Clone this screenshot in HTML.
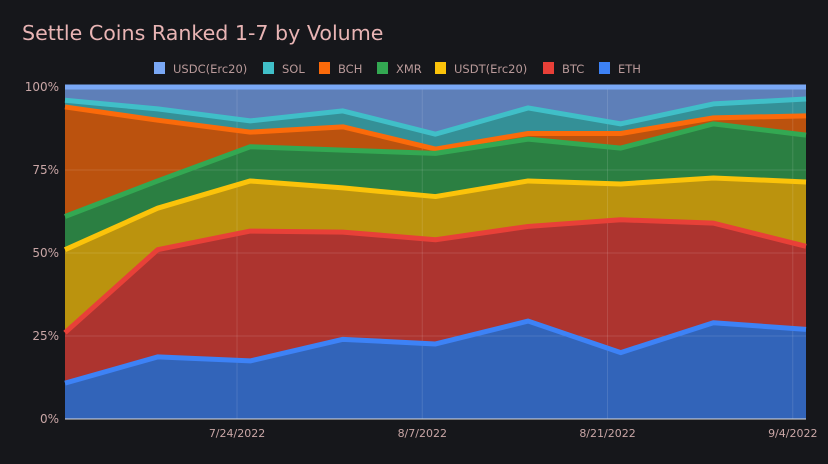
<!DOCTYPE html>
<html><head><meta charset="utf-8"><style>
body{margin:0;background:#16171b;width:828px;height:460px;overflow:hidden;font-family:"DejaVu Sans",sans-serif}
</style></head><body>
<svg id="c" width="828" height="460" font-family="DejaVu Sans, sans-serif">
<rect width="828" height="460" fill="#16171b"/>
<text x="22" y="40" fill="#e8b4b4" font-size="20.6">Settle Coins Ranked 1-7 by Volume</text>
</svg>
<script>
const dates=["2022-07-11","2022-07-18","2022-07-25","2022-08-01","2022-08-08","2022-08-15","2022-08-22","2022-08-29","2022-09-05"];
const seriesNames=["ETH","BTC","USDT(Erc20)","XMR","BCH","SOL","USDC(Erc20)"];
const colors=["#3d82f6","#e84038","#fbc30a","#33a852","#fb6a0a","#40bfc8","#7aa8f5"];
const cumETH=[10.8,18.7,17.5,24,22.6,29.5,20,29,27];
const cumBTC=[26,51,56.6,56.3,54,58,60,59,52];
const cumUSDT=[51,63.5,71.7,69.6,67,71.7,70.8,72.6,71.4];
const cumXMR=[61,71.7,82,81,80,84.3,81.6,88.9,85.5];
const cumBCH=[94,90,86.4,88,81.3,86,86,90.7,91.3];
const cumSOL=[96,93.4,89.8,92.8,85.8,93.7,88.9,94.9,96.4];
const cumUSDC=[100,100,100,100,100,100,100,100,100];
const yTicks=[0,25,50,75,100];
const xTicks=["2022-07-24","2022-08-07","2022-08-21","2022-09-04"];
const xTickLabels=["7/24/2022","8/7/2022","8/21/2022","9/4/2022"];
const legendOrder=["USDC(Erc20)","SOL","BCH","XMR","USDT(Erc20)","BTC","ETH"];

const svg=document.getElementById('c'),NS="http://www.w3.org/2000/svg";
const L=65,R=806,T=87,B=419;
const t0=new Date(dates[0]).getTime(),t1=new Date("2022-09-05").getTime();
const x=d=>L+(new Date(d).getTime()-t0)/(t1-t0)*(R-L);
const y=v=>B-v/100*(B-T);
function mk(tag,a){const e=document.createElementNS(NS,tag);for(const k in a)e.setAttribute(k,a[k]);svg.appendChild(e);return e;}
const cums=[cumETH,cumBTC,cumUSDT,cumXMR,cumBCH,cumSOL,cumUSDC];
for(let s=cums.length-1;s>=0;s--){
  const top=cums[s].map((v,i)=>[x(dates[i]),y(v)]);
  const bot=s>0?cums[s-1].map((v,i)=>[x(dates[i]),y(v)]):dates.map(d=>[x(d),y(0)]);
  const pts=top.concat(bot.slice().reverse()).map(p=>p.join(',')).join(' ');
  const a=mk('polygon',{points:pts,fill:colors[s],'fill-opacity':0.72});
  
  
}
yTicks.forEach(v=>{
  const g=mk('line',{x1:L,x2:R,y1:y(v),y2:y(v),stroke:'#fff','stroke-opacity':0.12});
  
  
  const t=mk('text',{x:L-6,y:y(v)+4,'text-anchor':'end',fill:'#c9a6a6','font-size':12});
  t.textContent=v+'%';
  
  
});
xTicks.forEach((d,i)=>{
  const g=mk('line',{x1:x(d),x2:x(d),y1:T,y2:B,stroke:'#fff','stroke-opacity':0.12});
  
  
  const t=mk('text',{x:x(d),y:437,'text-anchor':'middle',fill:'#c9a6a6','font-size':11});
  t.textContent=xTickLabels[i];
  
  
});
for(let s=cums.length-1;s>=0;s--){
  const l=mk('polyline',{points:cums[s].map((v,i)=>x(dates[i])+','+y(v)).join(' '),fill:'none',stroke:colors[s],'stroke-width':5,'stroke-linejoin':'round'});
  
  
}
const ax=mk('line',{x1:L,x2:R,y1:B,y2:B,stroke:'#ddd','stroke-width':1});


const lx=[154,263,319,377,435,543,599];
legendOrder.forEach((n,i)=>{
  const c=colors[seriesNames.indexOf(n)];
  const r=mk('rect',{x:lx[i],y:62,width:11,height:12,fill:c});
  
  
  const t=mk('text',{x:lx[i]+19,y:73,fill:'#b99a9a','font-size':11.5});
  t.textContent=n;
  
  
});
</script>
</body></html>
